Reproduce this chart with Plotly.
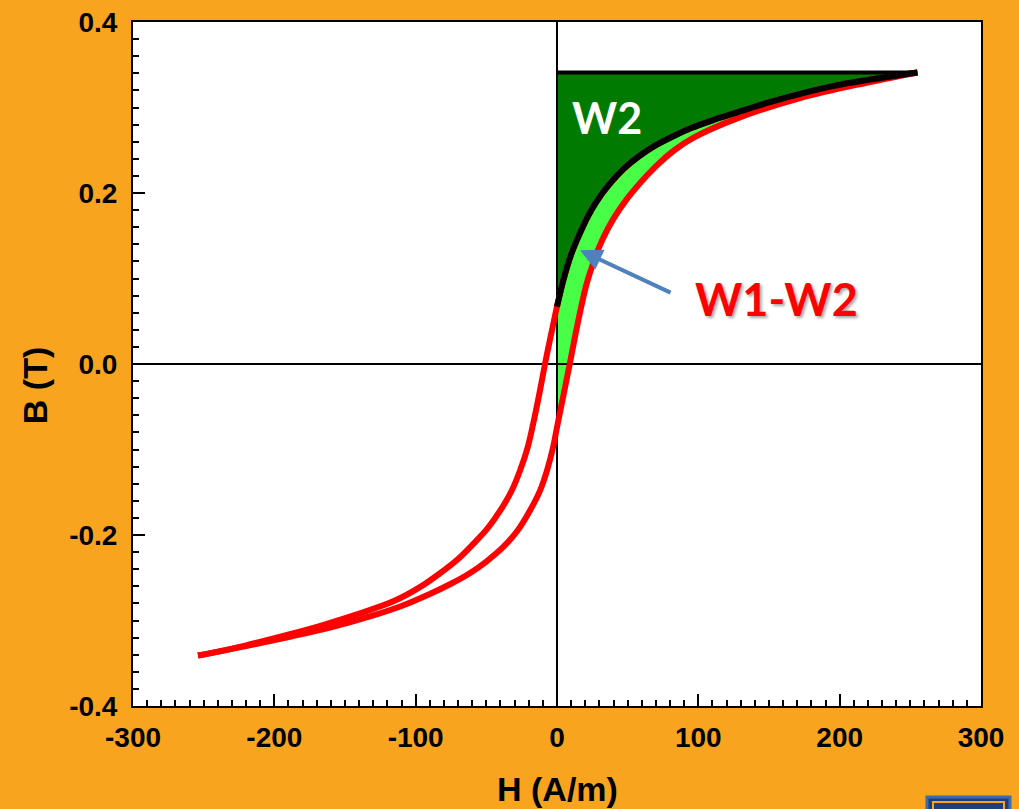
import plotly.graph_objects as go

# ---------------- data ----------------
# descending branch of the B-H loop (from +saturation to -saturation)
desc_H = [255, 219, 195, 172, 150, 127, 110, 95, 83, 70, 58, 47, 37, 28, 22, 16, 10, 4.5, 0, -4, -8.5,
          -12.5, -17, -21, -26, -32, -40, -49, -59, -70, -83, -97, -115, -140, -165, -189, -220, -254]
desc_B = [0.341, 0.332, 0.325, 0.316, 0.306, 0.294, 0.285, 0.276, 0.267, 0.256, 0.243, 0.228, 0.210,
          0.190, 0.173, 0.152, 0.128, 0.098, 0.067, 0.036, 0.0, -0.035, -0.071, -0.099, -0.124, -0.148,
          -0.171, -0.192, -0.210, -0.228, -0.245, -0.261, -0.277, -0.292, -0.305, -0.316, -0.329, -0.341]
# ascending branch (from -saturation to +saturation)
asc_H = [-254, -220, -189, -160, -130, -110, -90, -75, -62, -50, -38, -28, -19, -12, -7, -3, 0, 5, 9,
         13, 17, 21, 26, 32, 40, 49, 59, 70.5, 83, 97, 127, 172, 219, 255]
asc_B = [-0.341, -0.330, -0.319, -0.308, -0.294, -0.283, -0.269, -0.257, -0.245, -0.231, -0.214,
         -0.195, -0.171, -0.148, -0.124, -0.099, -0.074, -0.033, 0.0, 0.034, 0.066, 0.094, 0.120,
         0.145, 0.170, 0.192, 0.212, 0.232, 0.250, 0.265, 0.287, 0.311, 0.329, 0.341]

B_sat = 0.341
H_sat = 255

x_range = [-300, 300]
y_range = [-0.4, 0.4]
x_ticks = [-300, -200, -100, 0, 100, 200, 300]
y_ticks = [-0.4, -0.2, 0.0, 0.2, 0.4]
x_ticktext = [str(v) for v in x_ticks]
y_ticktext = [f"{v:.1f}" for v in y_ticks]

# ---------------- styling ----------------
ORANGE = "#F9A41F"
RED = "#FF0000"
DARK_GREEN = "#007A00"
LIGHT_GREEN = "#46FF46"
ARROW_BLUE = "#4F81BD"
TICK_FONT = dict(family="Liberation Sans, Arial, sans-serif", size=28, color="black", weight="bold")
TITLE_FONT = dict(family="Liberation Sans, Arial, sans-serif", size=34, color="black", weight="bold")
SPL = dict(shape="spline", smoothing=1.0)

# parts of the branches on the H >= 0 side
d_pos = [(h, b) for h, b in zip(desc_H, desc_B) if h >= 0]          # ordered Hsat -> 0
a_pos = [(h, b) for h, b in zip(asc_H, asc_B) if h >= 0][::-1]     # ordered Hsat -> 0

fig = go.Figure()

# light green region W1-W2: between ascending (H>=0) and descending (H>=0)
fig.add_trace(go.Scatter(x=[p[0] for p in a_pos], y=[p[1] for p in a_pos], mode="lines",
                         line=dict(width=0, **SPL), hoverinfo="skip"))
fig.add_trace(go.Scatter(x=[p[0] for p in d_pos], y=[p[1] for p in d_pos], mode="lines",
                         line=dict(width=0, **SPL), fill="tonexty",
                         fillcolor=LIGHT_GREEN, hoverinfo="skip"))
# dark green region W2: between B_sat line and descending branch
fig.add_trace(go.Scatter(x=[H_sat, 0], y=[B_sat, B_sat], mode="lines",
                         line=dict(width=0), hoverinfo="skip"))
fig.add_trace(go.Scatter(x=[p[0] for p in d_pos], y=[p[1] for p in d_pos], mode="lines",
                         line=dict(width=0, **SPL), fill="tonexty",
                         fillcolor=DARK_GREEN, hoverinfo="skip"))

# zero lines (drawn over the fills)
fig.add_trace(go.Scatter(x=[0, 0], y=y_range, mode="lines", line=dict(color="black", width=2), hoverinfo="skip"))
fig.add_trace(go.Scatter(x=x_range, y=[0, 0], mode="lines", line=dict(color="black", width=2), hoverinfo="skip"))

# red hysteresis loop
fig.add_trace(go.Scatter(x=asc_H, y=asc_B, mode="lines", line=dict(color=RED, width=6, **SPL)))
fig.add_trace(go.Scatter(x=desc_H, y=desc_B, mode="lines", line=dict(color=RED, width=6, **SPL)))
# black descending part (H >= 0) and saturation line
fig.add_trace(go.Scatter(x=[p[0] for p in d_pos], y=[p[1] for p in d_pos], mode="lines",
                         line=dict(color="black", width=6, **SPL)))
fig.add_trace(go.Scatter(x=[0, H_sat], y=[B_sat, B_sat], mode="lines",
                         line=dict(color="black", width=4)))

axis_common = dict(showgrid=False, zeroline=False, showline=True, linecolor="black", linewidth=2,
                   mirror=True, ticks="inside", ticklen=12, tickwidth=2, tickcolor="black",
                   tickfont=TICK_FONT, automargin=False)

fig.update_xaxes(range=x_range, tickvals=x_ticks, ticktext=x_ticktext, ticklabelstandoff=5,
                 minor=dict(dtick=10, ticks="inside", ticklen=6, tickwidth=1.5, tickcolor="black"),
                 **axis_common)
fig.update_yaxes(range=y_range, tickvals=y_ticks, ticktext=y_ticktext, ticklabelstandoff=8,
                 minor=dict(dtick=0.02, ticks="inside", ticklen=6, tickwidth=1.5, tickcolor="black"),
                 **axis_common)

fig.update_layout(
    width=1019, height=809,
    margin=dict(l=133, r=38, t=22, b=103, autoexpand=False),
    paper_bgcolor=ORANGE, plot_bgcolor="white",
    showlegend=False,
    annotations=[
        dict(text="H (A/m)", xref="paper", yref="paper", x=0.5, y=-0.1213, showarrow=False,
             xanchor="center", yanchor="middle", font=TITLE_FONT),
        dict(text="B (T)", xref="paper", yref="paper", x=-0.1156, y=0.469, showarrow=False,
             textangle=-90, xanchor="center", yanchor="middle", font=TITLE_FONT),
        dict(text="W2", x=35.4, y=0.2885, xref="x", yref="y", showarrow=False,
             font=dict(family="Lato, Open Sans, sans-serif", size=43, color="white", weight="bold")),
        dict(text="W1-W2", x=155, y=0.0765, xref="x", yref="y", showarrow=False,
             font=dict(family="Lato, Open Sans, sans-serif", size=45, color=RED, weight="bold",
                       shadow="2px 2px 3px rgba(0,0,0,0.35)")),
        dict(text="", x=16.3, y=0.133, xref="x", yref="y", showarrow=True, ax=92, ay=43,
             arrowhead=2, arrowsize=1.1, arrowwidth=4, arrowcolor=ARROW_BLUE),
    ],
    shapes=[
        dict(type="rect", xref="paper", yref="paper", x0=0.9363, x1=1.0342, y0=-0.16, y1=-0.133,
             fillcolor="#1F3F7A", line=dict(color="#3A6CB0", width=3)),
        dict(type="rect", xref="paper", yref="paper", x0=0.9434, x1=1.0271, y0=-0.16, y1=-0.1404,
             fillcolor="#1F3F7A", line=dict(color=ORANGE, width=2)),
    ],
)

fig.write_html("out.html")
